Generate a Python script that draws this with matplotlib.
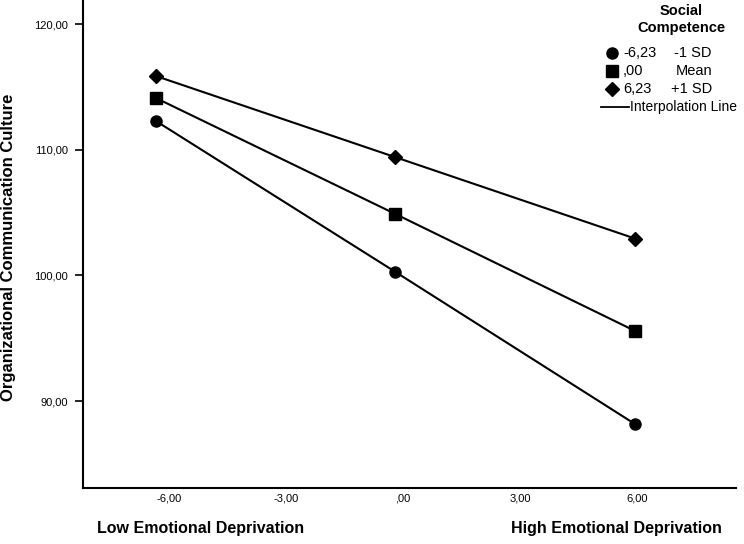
import matplotlib
matplotlib.use("Agg")
import matplotlib.pyplot as plt
from matplotlib.lines import Line2D
from matplotlib.ticker import FuncFormatter

# Werte
x_vals = [-6.33, -0.19, 5.95]
mod_values = [-6.23, 0.0, 6.23]
mod_labels = ["-1 SD", "Mean", "+1 SD"]
y_low = [112.28, 100.27, 88.17]
y_mean = [114.11, 104.88, 95.58]
y_high = [115.86, 109.40, 102.93]
x_ticks = [-6, -3, 0, 3, 6]
y_ticks = [90, 100, 110, 120]

series = [y_low, y_mean, y_high]
markers = [("o", 8.0), ("s", 8.2), ("D", 6.8)]

W, H = 744, 544
FONT = ["Liberation Sans", "DejaVu Sans"]


def spss_fmt(v, pos=None):
    if abs(v) < 1e-9:
        v = 0.0
    s = f"{v:.2f}".replace(".", ",")
    if s.startswith("0,"):
        s = s[1:]
    elif s.startswith("-0,"):
        s = "-" + s[2:]
    return s


def fx(px):
    return px / W


def fy(py):
    return 1 - py / H


fig = plt.figure(figsize=(W / 100, H / 100), dpi=100)
ax = fig.add_axes([fx(83), fy(488), fx(653), 488 / H])

for ys, (m, ms) in zip(series, markers):
    ax.plot(x_vals, ys, color="black", lw=1.5, marker=m, ms=ms,
            markerfacecolor="black", markeredgecolor="black")

ax.set_xlim(-8.2, 8.54)
ax.set_ylim(83.08, 121.91)
ax.set_xticks(x_ticks)
ax.set_yticks(y_ticks)
ax.xaxis.set_major_formatter(FuncFormatter(spss_fmt))
ax.yaxis.set_major_formatter(FuncFormatter(spss_fmt))
ax.tick_params(axis="x", length=0, pad=4)
ax.tick_params(axis="y", length=6, width=1.2, pad=5)
for lab in ax.get_xticklabels() + ax.get_yticklabels():
    lab.set_family(FONT)
    lab.set_fontsize(8)
for side in ["top", "right"]:
    ax.spines[side].set_visible(False)
for side in ["left", "bottom"]:
    ax.spines[side].set_linewidth(1.5)

fig.text(fx(9), fy(247), "Organizational Communication Culture", family=FONT,
         fontsize=12, fontweight="bold", rotation=90,
         ha="center", va="center")

fig.text(fx(97), fy(528), "Low Emotional Deprivation", family=FONT,
         fontsize=11.5, fontweight="bold", ha="left", va="center")
fig.text(fx(722), fy(528), "High Emotional Deprivation", family=FONT,
         fontsize=11.5, fontweight="bold", ha="right", va="center")

# Legende von Hand
fig.text(fx(681), fy(11), "Social", family=FONT, fontsize=10.5,
         fontweight="bold", ha="center", va="center")
fig.text(fx(681), fy(28), "Competence", family=FONT, fontsize=10.5,
         fontweight="bold", ha="center", va="center")
leg_y = [53, 71, 89]
for yy, (m, ms), v, lab in zip(leg_y, markers, mod_values, mod_labels):
    fig.add_artist(Line2D([fx(612)], [fy(yy)], transform=fig.transFigure,
                          marker=m, ms=ms, color="black", lw=0))
    fig.text(fx(623), fy(yy), spss_fmt(v), family=FONT, fontsize=10.5,
             ha="left", va="center")
    fig.text(fx(712), fy(yy), lab, family=FONT, fontsize=10.5,
             ha="right", va="center")
fig.add_artist(Line2D([fx(601), fx(629)], [fy(107), fy(107)],
                      transform=fig.transFigure, color="black", lw=1.3))
fig.text(fx(630), fy(107), "Interpolation Line", family=FONT, fontsize=10,
         ha="left", va="center")

fig.savefig("out.png", dpi=100)
